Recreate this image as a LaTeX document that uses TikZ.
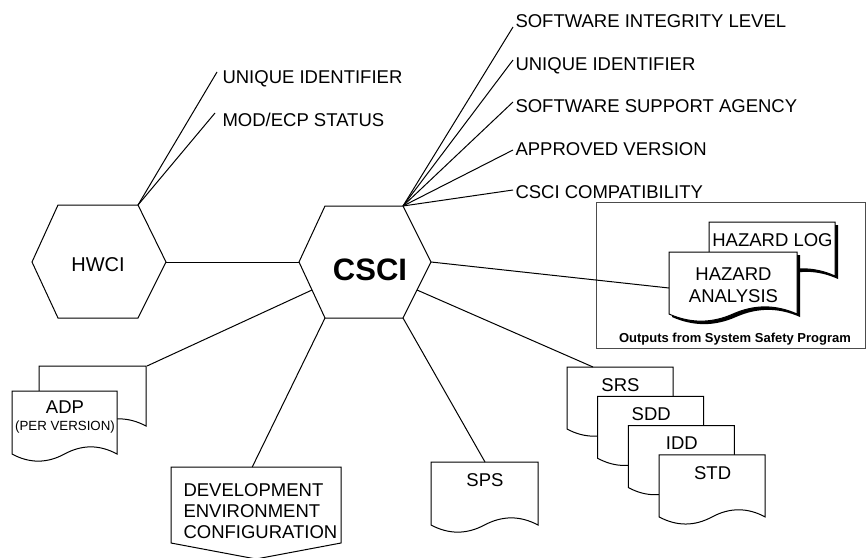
\documentclass[tikz,border=0pt]{standalone}
\usepackage{fontspec}
\setmainfont{Liberation Sans}
\usetikzlibrary{calc,shadows}

% document page with a wavy lower edge: [opts]{name}{x}{y}{w}{h}
\newcommand{\docpage}[6][]{%
  \pgfmathsetmacro{\dpR}{#3+#5}%
  \pgfmathsetmacro{\dpB}{#4+#6}%
  \pgfmathsetmacro{\dpA}{#3+0.8333*#5}%
  \pgfmathsetmacro{\dpC}{#3+0.6667*#5}%
  \pgfmathsetmacro{\dpM}{#3+0.5*#5}%
  \pgfmathsetmacro{\dpD}{#3+0.3333*#5}%
  \pgfmathsetmacro{\dpE}{#3+0.1667*#5}%
  \pgfmathsetmacro{\dpUp}{\dpB-9.5}%
  \pgfmathsetmacro{\dpDn}{\dpB+9.5}%
  \draw[docline,#1] (#3,#4) -- (\dpR,#4) -- (\dpR,\dpB)
    .. controls (\dpA,\dpUp) and (\dpC,\dpUp) .. (\dpM,\dpB)
    .. controls (\dpD,\dpDn) and (\dpE,\dpDn) .. (#3,\dpB) -- cycle;
  \node[docbox,minimum width=#5pt,minimum height=#6pt,anchor=north west] (#2) at (#3,#4) {};%
}

\tikzset{
  docline/.style={fill=white},
  docbox/.style={draw=none,inner sep=0pt},
  doctext/.style={inner sep=0pt,anchor=north,align=center,font=\fontsize{18.5}{22}\selectfont},
  attr/.style={inner sep=0pt,anchor=base west,font=\fontsize{18.5}{22}\selectfont},
  hzshadow/.style={drop shadow={shadow xshift=3pt,shadow yshift=-3pt,opacity=1,fill=black}},
}

\begin{document}
\begin{tikzpicture}[x=1pt,y=-1pt,line width=1pt]
  \useasboundingbox (0,0) rectangle (866,557);

  % HWCI hexagon
  \coordinate (hw-nw) at (58,205);
  \coordinate (hw-ne) at (138,205);
  \coordinate (hw-e) at (166,262);
  \coordinate (hw-se) at (138,318);
  \coordinate (hw-sw) at (58,318);
  \coordinate (hw-w) at (32,262);
  \draw (hw-nw) -- (hw-ne) -- (hw-e) -- (hw-se) -- (hw-sw) -- (hw-w) -- cycle;
  \node[font=\fontsize{20}{24}\selectfont] (hwci) at (98,265) {HWCI};

  % CSCI hexagon
  \coordinate (cs-nw) at (325,206);
  \coordinate (cs-ne) at (403,206);
  \coordinate (cs-e) at (431,262);
  \coordinate (cs-se) at (403,318);
  \coordinate (cs-sw) at (325,318);
  \coordinate (cs-w) at (299,262);
  \draw (cs-nw) -- (cs-ne) -- (cs-e) -- (cs-se) -- (cs-sw) -- (cs-w) -- cycle;
  \node[font=\fontsize{31}{36}\selectfont\bfseries] (csci) at (370,270) {CSCI};

  % HWCI attributes
  \node[attr] (hwuid) at (222,83) {UNIQUE IDENTIFIER};
  \node[attr] (hwmod) at (222,126) {MOD/ECP STATUS};
  \coordinate (hwuid-end) at (217,72);
  \coordinate (hwmod-end) at (215,113);
  \draw (hw-ne) -- (hwuid-end);
  \draw (hw-ne) -- (hwmod-end);

  % CSCI attributes
  \foreach \nm/\txt/\by/\ey in {sil/SOFTWARE INTEGRITY LEVEL/27/27,
      uid/UNIQUE IDENTIFIER/70/60, ssa/SOFTWARE SUPPORT AGENCY/112.5/102,
      apv/APPROVED VERSION/155/150, ccp/CSCI COMPATIBILITY/198/190} {
    \node[attr] (\nm) at (515,\by) {\txt};
    \coordinate (\nm-end) at (513,\ey);
    \draw (cs-ne) -- (\nm-end);
  }

  % Outputs from system safety program
  \node[draw=black!70,line width=0.8pt,minimum width=269pt,minimum height=146pt,
    anchor=north west,inner sep=0pt] (safety) at (596,202) {};
  \node[font=\fontsize{13}{15}\selectfont\bfseries] (safety-txt) at (735,339)
    {Outputs from System Safety Program};
  \docpage[hzshadow]{hlog}{709}{222}{126}{54}
  \node[doctext] (hlog-txt) at ([yshift=-11pt]hlog.north) {HAZARD LOG};
  \docpage[hzshadow]{hana}{669}{252}{128}{62}
  \node[doctext] (hana-txt) at ([yshift=-15pt]hana.north) {HAZARD\\ANALYSIS};

  % ADP pages
  \docpage{adpback}{39}{366}{107}{60}
  \docpage{adp}{12}{391}{105}{63}
  \node[doctext] (adp-txt) at ([yshift=-9pt]adp.north)
    {ADP\\[-5pt]{\fontsize{13.3}{15}\selectfont (PER VERSION)}};

  % development environment
  \coordinate (dv-nw) at (171,467);
  \coordinate (dv-ne) at (341,467);
  \coordinate (dv-se) at (341,543);
  \coordinate (dv-s) at (256,559);
  \coordinate (dv-sw) at (171,543);
  \draw[fill=white] (dv-nw) -- (dv-ne) -- (dv-se) -- (dv-s) -- (dv-sw) -- cycle;
  \node[attr,anchor=north west,align=left,font=\fontsize{18.5}{21}\selectfont] (dev)
    at (183,483) {DEVELOPMENT\\ENVIRONMENT\\CONFIGURATION};
  \coordinate (dv-top) at ($(dv-nw)!0.478!(dv-ne)$);

  % SPS
  \docpage{sps}{431}{462}{107}{63}
  \node[doctext] (sps-txt) at ([yshift=-11pt]sps.north) {SPS};

  % stacked documents
  \foreach \doc/\lbl [count=\i from 0] in {srs/SRS,sdd/SDD,idd/IDD,std/STD} {
    \pgfmathsetmacro{\stx}{567+30.7*\i}
    \pgfmathsetmacro{\sty}{367+29.3*\i}
    \docpage{\doc}{\stx}{\sty}{106}{62}
    \node[doctext] (\doc-txt) at ([yshift=-10.7pt]\doc.north) {\lbl};
  }

  % Connectors
  \draw (cs-w) -- (hw-e);
  \draw (cs-e) -- ([yshift=-36pt]hana.north west);
  \draw ($(cs-w)!0.5!(cs-sw)$) -- (adpback.north east);
  \draw (cs-sw) -- (dv-top);
  \draw (cs-se) -- (sps.north);
  \draw ($(cs-e)!0.5!(cs-se)$) -- ([xshift=26pt]srs.north west);
\end{tikzpicture}
\end{document}
